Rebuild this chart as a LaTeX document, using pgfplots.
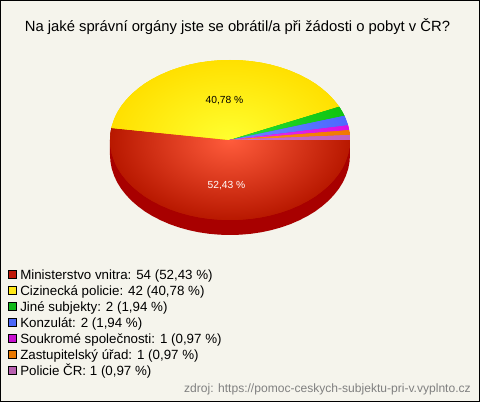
\documentclass[border=0pt]{standalone}
\usepackage{pgfplots}
\pgfplotsset{compat=1.18}
\usepackage{fontspec}
\setmainfont{Liberation Sans}
\definecolor{bgc}{HTML}{F5F4EC}
\definecolor{sidec}{HTML}{A80000}
\newif\ifinpp
\tikzset{pieshade/.style 2 args={fill=#2, path picture={\ifinpp\else\inpptrue\shade[inner color=#1,outer color=#2] (axis cs:110,60) rectangle (axis cs:350,220);\fi}}}
\definecolor{ri}{HTML}{FF5C3C}\definecolor{ro}{HTML}{B81800}
\definecolor{yi}{HTML}{FFFF30}\definecolor{yo}{HTML}{FFE000}
\definecolor{gi}{HTML}{28E038}\definecolor{go}{HTML}{10C410}
\definecolor{bi}{HTML}{6C88FF}\definecolor{bo}{HTML}{4C68FF}
\definecolor{mi}{HTML}{E838F0}\definecolor{mo}{HTML}{D810E0}
\definecolor{oi}{HTML}{FF9020}\definecolor{oo}{HTML}{F07800}
\definecolor{pi}{HTML}{CC70CC}\definecolor{po}{HTML}{C060C0}
\definecolor{l1}{HTML}{C01808}\definecolor{l2}{HTML}{FFE818}\definecolor{l3}{HTML}{10B818}\definecolor{l4}{HTML}{4C68F8}\definecolor{l5}{HTML}{C810D0}\definecolor{l6}{HTML}{E87800}\definecolor{l7}{HTML}{B860B0}
\begin{document}
\begin{tikzpicture}
\begin{axis}[
  scale only axis, width=359.25pt, height=300.75pt,
  xmin=0.5, xmax=479.5, ymin=0.5, ymax=401.5, y dir=reverse,
  xtick=\empty, ytick=\empty,
  axis line style={black, line width=0.75pt},
  axis background/.style={fill=bgc},
  clip mode=individual,
]
% side of the pie
\addplot[draw=none, fill=sidec] coordinates {(350,140)(350,155)(349.5,162)(348.2,168.9)(345.9,175.7)(342.8,182.4)(338.8,188.8)(333.9,195)(328.3,200.9)(321.9,206.4)(314.9,211.6)(307.1,216.3)(298.8,220.5)(290,224.3)(280.7,227.5)(271,230.2)(261.1,232.3)(250.8,233.8)(240.5,234.7)(230,235)(219.5,234.7)(209.2,233.8)(198.9,232.3)(189,230.2)(179.3,227.5)(170,224.3)(161.2,220.5)(152.9,216.3)(145.1,211.6)(138.1,206.4)(131.7,200.9)(126.1,195)(121.2,188.8)(117.2,182.4)(114.1,175.7)(111.8,168.9)(110.5,162)(110,155)(110,140)(350,140)};
% red
\addplot[draw=none, pieshade={ri}{ro}] coordinates {(230,140)(350,140)(349.5,147)(348.2,153.9)(345.9,160.7)(342.8,167.4)(338.8,173.8)(333.9,180)(328.3,185.9)(321.9,191.4)(314.9,196.6)(307.1,201.3)(298.8,205.5)(290,209.3)(280.7,212.5)(271,215.2)(261.1,217.3)(250.8,218.8)(240.5,219.7)(230,220)(219.5,219.7)(209.2,218.8)(198.9,217.3)(189,215.2)(179.3,212.5)(170,209.3)(161.2,205.5)(152.9,201.3)(145.1,196.6)(138.1,191.4)(131.7,185.9)(126.1,180)(121.2,173.8)(117.2,167.4)(114.1,160.7)(111.8,153.9)(110.5,147)(110,140)(110.5,133)(111.4,127.9)(230,140)};
% yellow
\addplot[draw=none, pieshade={yi}{yo}] coordinates {(230,140)(111.4,127.9)(111.8,126.1)(114.1,119.3)(117.2,112.6)(121.2,106.2)(126.1,100)(131.7,94.1)(138.1,88.6)(145.1,83.4)(152.9,78.7)(161.2,74.5)(170,70.7)(179.3,67.5)(189,64.8)(198.9,62.7)(209.2,61.2)(219.5,60.3)(230,60)(240.5,60.3)(250.8,61.2)(261.1,62.7)(271,64.8)(280.7,67.5)(290,70.7)(298.8,74.5)(307.1,78.7)(314.9,83.4)(321.9,88.6)(328.3,94.1)(333.9,100)(338.8,106.2)(339.2,106.8)(230,140)};
% green
\addplot[draw=none, pieshade={gi}{go}] coordinates {(230,140)(339.2,106.8)(342.8,112.6)(344.4,115.9)(230,140)};
% blue
\addplot[draw=none, pieshade={bi}{bo}] coordinates {(230,140)(344.4,115.9)(345.9,119.3)(348,125.4)(230,140)};
% magenta
\addplot[draw=none, pieshade={mi}{mo}] coordinates {(230,140)(348,125.4)(348.2,126.1)(349.1,130.2)(230,140)};
% orange
\addplot[draw=none, pieshade={oi}{oo}] coordinates {(230,140)(349.1,130.2)(349.5,133)(349.8,135.1)(230,140)};
% purple
\addplot[draw=none, pieshade={pi}{po}] coordinates {(230,140)(349.8,135.1)(350,140)(230,140)};
% legend swatches
\pgfplotsset{swatch/.style={only marks, mark=square*, mark size=2.9pt, mark options={draw=black, line width=0.5pt, fill=#1}}}
\addplot[swatch=l1] coordinates {(12.5,274.5)};
\addplot[swatch=l2] coordinates {(12.5,290.5)};
\addplot[swatch=l3] coordinates {(12.5,306.5)};
\addplot[swatch=l4] coordinates {(12.5,322.5)};
\addplot[swatch=l5] coordinates {(12.5,338.5)};
\addplot[swatch=l6] coordinates {(12.5,354.5)};
\addplot[swatch=l7] coordinates {(12.5,370.5)};
\node[anchor=base, font=\fontsize{11.1pt}{13pt}\selectfont, inner sep=0pt] at (axis cs:237.5,31.5) {Na jaké správní orgány jste se obrátil/a při žádosti o pobyt v ČR?};
\node[anchor=base, font=\fontsize{7.7pt}{9pt}\selectfont, inner sep=0pt, text=black] at (axis cs:224.5,104) {40,78 \%};
\node[anchor=base, font=\fontsize{7.7pt}{9pt}\selectfont, inner sep=0pt, text=white] at (axis cs:226.5,189) {52,43 \%};
\node[anchor=base west, font=\fontsize{10pt}{12pt}\selectfont, inner sep=0pt] at (axis cs:20,279.5) {Ministerstvo vnitra: 54 (52,43 \%)};
\node[anchor=base west, font=\fontsize{10pt}{12pt}\selectfont, inner sep=0pt] at (axis cs:20,295.5) {Cizinecká policie: 42 (40,78 \%)};
\node[anchor=base west, font=\fontsize{10pt}{12pt}\selectfont, inner sep=0pt] at (axis cs:20,311.5) {Jiné subjekty: 2 (1,94 \%)};
\node[anchor=base west, font=\fontsize{10pt}{12pt}\selectfont, inner sep=0pt] at (axis cs:20,327.5) {Konzulát: 2 (1,94 \%)};
\node[anchor=base west, font=\fontsize{10pt}{12pt}\selectfont, inner sep=0pt] at (axis cs:20,343.5) {Soukromé společnosti: 1 (0,97 \%)};
\node[anchor=base west, font=\fontsize{10pt}{12pt}\selectfont, inner sep=0pt] at (axis cs:20,359.5) {Zastupitelský úřad: 1 (0,97 \%)};
\node[anchor=base west, font=\fontsize{10pt}{12pt}\selectfont, inner sep=0pt] at (axis cs:20,375.5) {Policie ČR: 1 (0,97 \%)};
\node[anchor=base east, font=\fontsize{9.05pt}{11pt}\selectfont, inner sep=0pt, text=black!50] at (axis cs:471,393) {zdroj: https://pomoc-ceskych-subjektu-pri-v.vyplnto.cz};
\end{axis}
\end{tikzpicture}
\end{document}
